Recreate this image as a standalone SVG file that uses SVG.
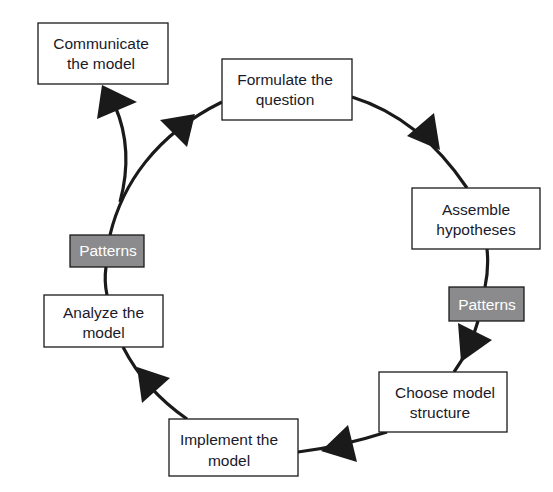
<svg xmlns="http://www.w3.org/2000/svg" width="553" height="492" viewBox="0 0 553 492">
<style>
.box{fill:#fff;stroke:#1a1a1a;stroke-width:1.3}
.pat{fill:#8b8b8d;stroke:#1a1a1a;stroke-width:1.3}
.t{font-family:"Liberation Sans",Arial,sans-serif;font-size:15.5px;fill:#1a1a2a;text-anchor:middle}
.tw{font-family:"Liberation Sans",Arial,sans-serif;font-size:15.5px;fill:#fff;text-anchor:middle}
.c{fill:none;stroke:#1a1a1a;stroke-width:3.2}
.ah{fill:#1a1a1a}
</style>
<rect width="553" height="492" fill="#fff"/>
<g id="connectors">
<path class="c" d="M352,97 Q420,118 467,188"/>
<path class="c" d="M487,249 Q489,268 485,287"/>
<path class="c" d="M478,321 Q470,350 454,372"/>
<path class="c" d="M387,432 Q340,447 298,452"/>
<path class="c" d="M187,419 Q145,390 123,347"/>
<path class="c" d="M107,295 Q104,281 106,267"/>
<path class="c" d="M110,235 C122,185 155,135 222,102"/>
<path class="c" d="M120,202 Q134,150 115,106"/>
<polygon class="ah" points="102,85 137,102 97,119"/>
<polygon class="ah" points="160,120 195,114 187,147"/>
<polygon class="ah" points="407,136 434,113 440,150"/>
<polygon class="ah" points="458,323 492,340 461,362"/>
<polygon class="ah" points="348,425 357,462 321,451"/>
<polygon class="ah" points="137,367 170,378 142,403"/>
</g>
<g id="communicate">
<rect class="box" x="38" y="23" width="130" height="61"/>
<text class="t" x="101" y="49">Communicate</text>
<text class="t" x="101" y="69">the model</text>
</g>
<g id="formulate">
<rect class="box" x="222" y="59" width="130" height="61"/>
<text class="t" x="285" y="85">Formulate the</text>
<text class="t" x="285" y="105">question</text>
</g>
<g id="assemble">
<rect class="box" x="412" y="188" width="128" height="61"/>
<text class="t" x="476" y="215">Assemble</text>
<text class="t" x="476" y="235">hypotheses</text>
</g>
<g id="patterns-right">
<rect class="pat" x="449" y="287" width="75" height="34"/>
<text class="tw" x="487" y="310">Patterns</text>
</g>
<g id="choose">
<rect class="box" x="379" y="372" width="128" height="60"/>
<text class="t" x="445" y="398">Choose model</text>
<text class="t" x="440" y="418">structure</text>
</g>
<g id="implement">
<rect class="box" x="169" y="419" width="129" height="57"/>
<text class="t" x="229" y="445">Implement the</text>
<text class="t" x="229" y="466">model</text>
</g>
<g id="analyze">
<rect class="box" x="44" y="295" width="119" height="52"/>
<text class="t" x="103.5" y="318">Analyze the</text>
<text class="t" x="103.5" y="338">model</text>
</g>
<g id="patterns-left">
<rect class="pat" x="70" y="235" width="74" height="32"/>
<text class="tw" x="108" y="256">Patterns</text>
</g>
</svg>
